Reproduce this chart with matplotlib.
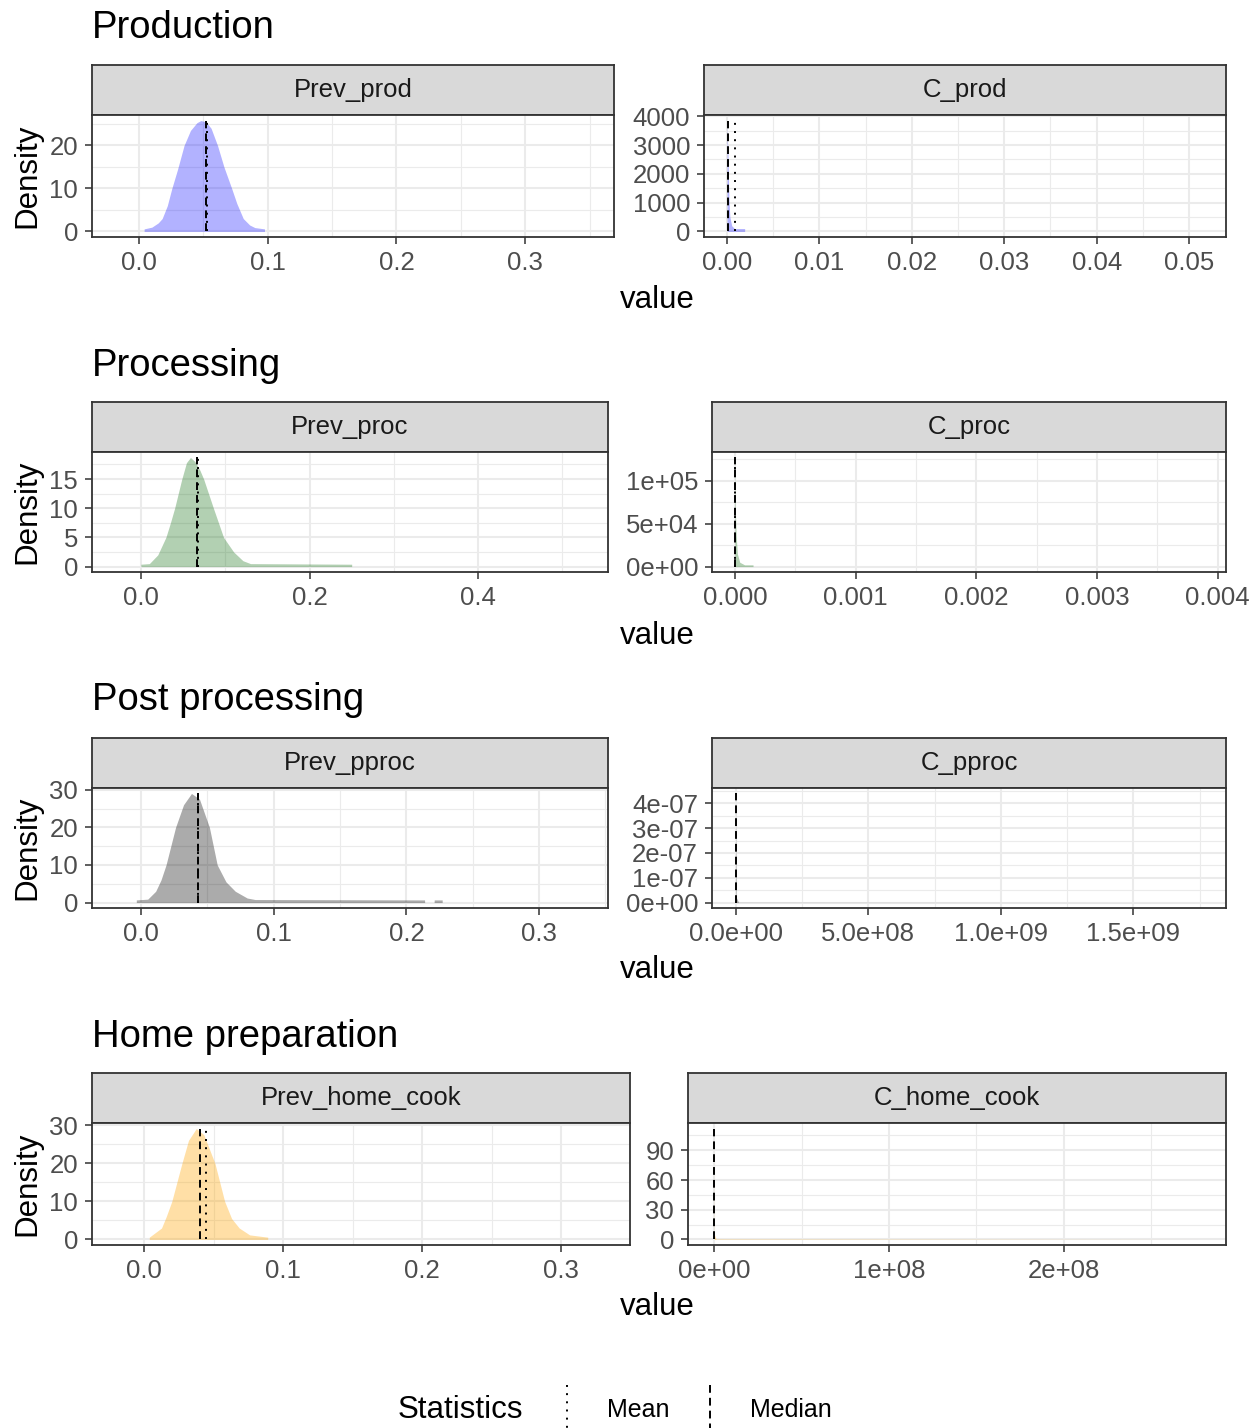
import numpy as np
import matplotlib.pyplot as plt
from matplotlib.lines import Line2D

plt.rcParams['font.family'] = ['Liberation Sans', 'DejaVu Sans']

# ---- data ----
stage_titles = ["Production", "Processing", "Post processing", "Home preparation"]
prev_names = ["Prev_prod", "Prev_proc", "Prev_pproc", "Prev_home_cook"]
conc_names = ["C_prod", "C_proc", "C_pproc", "C_home_cook"]

prev_prod_x = [0.004, 0.010, 0.015, 0.018, 0.022, 0.0255, 0.030, 0.035, 0.040, 0.045,
               0.048, 0.052, 0.056, 0.061, 0.066, 0.072, 0.076, 0.081, 0.086, 0.090, 0.0975]
prev_prod_y = [0.6, 1.0, 2.0, 3.0, 6.0, 10.0, 14.5, 20.0, 23.5, 25.3,
               25.8, 25.5, 24.0, 20.0, 15.0, 10.0, 6.5, 3.0, 1.5, 0.9, 0.6]

prev_proc_x = [0.000, 0.010, 0.020, 0.0296, 0.035, 0.040, 0.0485, 0.054, 0.0588, 0.064,
               0.070, 0.0744, 0.086, 0.098, 0.110, 0.121, 0.130, 0.250]
prev_proc_y = [0.4, 0.5, 2.0, 5.0, 7.5, 10.0, 15.0, 17.8, 18.7, 18.0,
               16.5, 15.0, 10.0, 5.0, 2.5, 1.0, 0.5, 0.4]

prev_pproc_x = [-0.0036, 0.005, 0.011, 0.015, 0.0188, 0.026, 0.032, 0.038, 0.044, 0.0515,
                0.0574, 0.064, 0.071, 0.080, 0.086, 0.2137, 0.2138, 0.2209, 0.221, 0.227]
prev_pproc_y = [0.7, 0.9, 3.0, 6.0, 10.0, 20.0, 26.0, 29.0, 27.5, 20.0,
                10.0, 5.5, 3.0, 1.2, 0.8, 0.7, 0.0, 0.0, 0.7, 0.7]

prev_home_x = [0.0038, 0.0126, 0.016, 0.020, 0.0273, 0.032, 0.0376, 0.043, 0.051, 0.058,
               0.063, 0.0685, 0.076, 0.089]
prev_home_y = [0.6, 3.0, 6.0, 10.0, 20.0, 26.0, 29.1, 27.5, 20.0, 10.0,
               5.5, 3.0, 1.2, 0.6]

c_prod_x = [0.0, 0.00005, 0.0001, 0.00015, 0.0002, 0.0003, 0.0005, 0.0008, 0.0012, 0.0019]
c_prod_y = [3850, 3100, 2600, 1800, 1100, 500, 200, 100, 100, 100]

c_proc_x = [0.0, 0.000005, 0.00001, 0.00002, 0.00004, 0.00008, 0.00015]
c_proc_y = [127000, 60000, 37000, 15000, 5000, 2000, 2000]

c_pproc_x = [0.0, 2e6, 1e7, 1.76e9]
c_pproc_y = [4.4e-7, 2e-8, 1e-9, 0.0]

c_home_x = [0.0, 1e5, 1e6, 2.79e8]
c_home_y = [112, 5, 0.5, 0.0]

prev_means = [0.0525, 0.0675, 0.0430, 0.0444]
prev_medians = [0.0520, 0.0670, 0.0426, 0.0406]
conc_means = [0.0009, 0.000004, np.nan, np.nan]
conc_medians = [0.0001, 0.000002, 0.0, 0.0]

prev_xticks = [[0.0, 0.1, 0.2, 0.3], [0.0, 0.2, 0.4], [0.0, 0.1, 0.2, 0.3], [0.0, 0.1, 0.2, 0.3]]
prev_xlabels = [["0.0", "0.1", "0.2", "0.3"], ["0.0", "0.2", "0.4"],
                ["0.0", "0.1", "0.2", "0.3"], ["0.0", "0.1", "0.2", "0.3"]]
prev_yticks = [[0, 10, 20], [0, 5, 10, 15], [0, 10, 20, 30], [0, 10, 20, 30]]

conc_xticks = [[0.0, 0.01, 0.02, 0.03, 0.04, 0.05], [0.0, 0.001, 0.002, 0.003, 0.004],
               [0.0, 5e8, 1e9, 1.5e9], [0.0, 1e8, 2e8]]
conc_xlabels = [["0.00", "0.01", "0.02", "0.03", "0.04", "0.05"],
                ["0.000", "0.001", "0.002", "0.003", "0.004"],
                ["0.0e+00", "5.0e+08", "1.0e+09", "1.5e+09"],
                ["0e+00", "1e+08", "2e+08"]]
conc_yticks = [[0, 1000, 2000, 3000, 4000], [0, 5e4, 1e5],
               [0, 1e-7, 2e-7, 3e-7, 4e-7], [0, 30, 60, 90]]
conc_ylabels = [["0", "1000", "2000", "3000", "4000"], ["0e+00", "5e+04", "1e+05"],
                ["0e+00", "1e-07", "2e-07", "3e-07", "4e-07"], ["0", "30", "60", "90"]]

prev_x = [prev_prod_x, prev_proc_x, prev_pproc_x, prev_home_x]
prev_y = [prev_prod_y, prev_proc_y, prev_pproc_y, prev_home_y]
conc_x = [c_prod_x, c_proc_x, c_pproc_x, c_home_x]
conc_y = [c_prod_y, c_proc_y, c_pproc_y, c_home_y]

# ---- layout (pixels) and styles ----
W, H = 1250, 1428
fills = [('blue', 0.30), ('darkgreen', 0.30), ('black', 0.33), ('orange', 0.35)]
prev_xlims = [(-0.0365, 0.369), (-0.058, 0.554), (-0.037, 0.352), (-0.0374, 0.3496)]
conc_xlims = [(-0.0025, 0.054), (-0.00019, 0.00407), (-0.09e9, 1.85e9), (-0.15e8, 2.93e8)]
row_y = [(28, 65, 115, 237, 300), (366, 402, 452, 572, 636),
         (700, 738, 788, 908, 970), (1037, 1073, 1123, 1245, 1307)]
left_x = [(92, 614), (92, 608), (92, 608), (92, 630)]
right_x = [(704, 1226), (712, 1226), (712, 1226), (688, 1226)]

fig = plt.figure(figsize=(W / 100, H / 100), dpi=100)


def px_axes(x0, y0, x1, y1):
    return fig.add_axes([x0 / W, 1 - y1 / H, (x1 - x0) / W, (y1 - y0) / H])


def minors(ticks, lim):
    step = ticks[1] - ticks[0]
    ext = [ticks[0] - step] + list(ticks) + [ticks[-1] + step]
    mids = [(a + b) / 2 for a, b in zip(ext[:-1], ext[1:])]
    return [m for m in mids if lim[0] <= m <= lim[1]]


def panel(box, strip_top, name, x, y, mean, median, fill, xlim,
          xticks, xlabels, yticks, ylabels):
    x0, x1, y0, y1 = box
    strip = px_axes(x0, strip_top, x1, y0)
    strip.set_facecolor('#D9D9D9')
    strip.set_xticks([])
    strip.set_yticks([])
    for s in strip.spines.values():
        s.set_color('#333333')
        s.set_linewidth(1.3)
    strip.text(0.5, 0.5, name, ha='center', va='center', fontsize=18.5, color='#1A1A1A')

    ax = px_axes(x0, y0, x1, y1)
    M = max(y)
    ylim = (-0.05 * M, 1.05 * M)
    ax.fill_between(x, 0, y, color=fill[0], alpha=fill[1], lw=0, zorder=2)
    ax.plot([median, median], [0, M], color='black', lw=1.4, dashes=(4, 2.6), zorder=3)
    if not np.isnan(mean):
        ax.plot([mean, mean], [0, M], color='black', lw=1.4, dashes=(1, 3.2), zorder=3)
    ax.set_xticks(xticks)
    ax.set_xticklabels(xlabels)
    ax.set_yticks(yticks)
    ax.set_yticklabels(ylabels)
    ax.set_xticks(minors(xticks, xlim), minor=True)
    ax.set_yticks(minors(yticks, ylim), minor=True)
    ax.set_xlim(*xlim)
    ax.set_ylim(*ylim)
    ax.grid(which='major', color='#EBEBEB', lw=1.5)
    ax.grid(which='minor', color='#EBEBEB', lw=0.8)
    ax.set_axisbelow(True)
    ax.tick_params(which='minor', length=0)
    ax.tick_params(which='major', direction='out', length=5, width=1.1, color='#333333',
                   labelcolor='#4D4D4D', labelsize=18.5, pad=5)
    for s in ax.spines.values():
        s.set_color('#333333')
        s.set_linewidth(1.3)
        s.set_zorder(4)
    return ax


for i in range(4):
    t_y, s_top, p_top, p_bot, v_y = row_y[i]
    fig.text(92 / W, 1 - t_y / H, stage_titles[i], fontsize=27.5, color='black',
             ha='left', va='center')
    panel((left_x[i][0], left_x[i][1], p_top, p_bot), s_top, prev_names[i],
          prev_x[i], prev_y[i], prev_means[i], prev_medians[i], fills[i], prev_xlims[i],
          prev_xticks[i], prev_xlabels[i], prev_yticks[i], [str(v) for v in prev_yticks[i]])
    panel((right_x[i][0], right_x[i][1], p_top, p_bot), s_top, conc_names[i],
          conc_x[i], conc_y[i], conc_means[i], conc_medians[i], fills[i], conc_xlims[i],
          conc_xticks[i], conc_xlabels[i], conc_yticks[i], conc_ylabels[i])
    fig.text(27 / W, 1 - (p_top + p_bot) / 2 / H, 'Density', rotation=90, fontsize=22.5,
             ha='center', va='center')
    fig.text(657 / W, 1 - v_y / H, 'value', fontsize=22.5, ha='center', va='center')

# legend
fig.text(398 / W, 1 - 1410 / H, 'Statistics', fontsize=22.5, ha='left', va='center')
fig.add_artist(Line2D([567 / W, 567 / W], [1 - 1385 / H, 0], color='black', lw=1.4,
                      dashes=(1, 3.2), transform=fig.transFigure))
fig.text(607 / W, 1 - 1410 / H, 'Mean', fontsize=18, ha='left', va='center')
fig.add_artist(Line2D([710 / W, 710 / W], [1 - 1385 / H, 0], color='black', lw=1.4,
                      dashes=(4, 2.6), transform=fig.transFigure))
fig.text(750 / W, 1 - 1410 / H, 'Median', fontsize=18, ha='left', va='center')

fig.savefig('out.png', dpi=100, facecolor='white')
